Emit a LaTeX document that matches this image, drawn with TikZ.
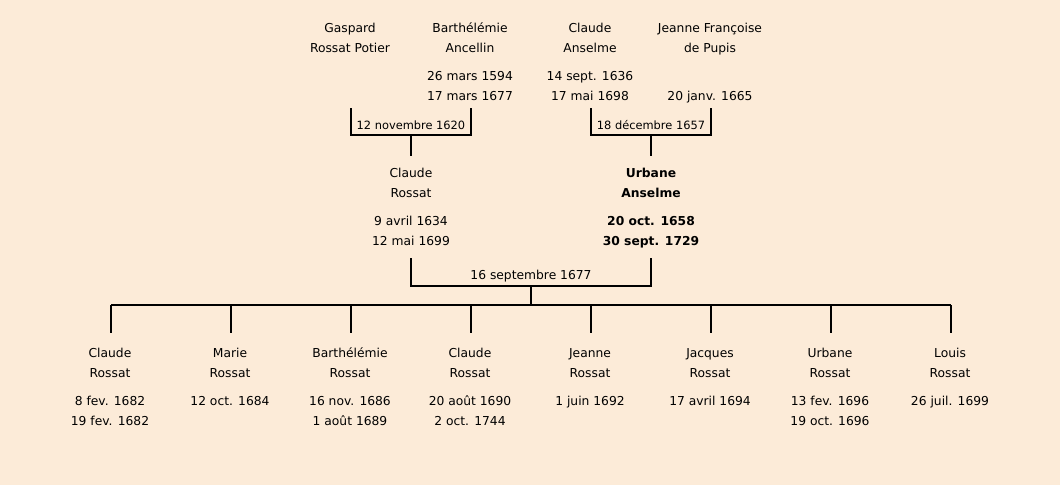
\documentclass[tikz,border=0pt]{standalone}
\usepackage{fontspec}
\setmainfont{DejaVu Sans}
\definecolor{bg}{HTML}{FCEBD8}
\begin{document}
\begin{tikzpicture}[x=1pt,y=-1pt,
  txt/.style={font=\fontsize{12.3}{20}\selectfont, align=center, inner sep=0pt, text=black,
    execute at begin node={\strut}, execute at end node={\strut}},
  two/.style={txt, yshift=-4pt},
  bold/.style={two, font=\fontsize{12.3}{20}\selectfont\bfseries},
  mlabel/.style={txt, font=\fontsize{11.4}{20}\selectfont},
  link/.style={line width=1.6pt, black}]
\fill[bg] (0,0) rectangle (1060,485);
% grandparents
\node[two] (gaspard) at (350,37) {Gaspard\\Rossat Potier};
\node[two] (barth) at (470,37) {Barthélémie\\Ancellin};
\node[two] (barthd) at (470,85) {26 mars 1594\\17 mars 1677};
\node[two] (claudeA) at (590,37) {Claude\\Anselme};
\node[two] (claudeAd) at (590,85) {14 sept. 1636\\17 mai 1698};
\node[two] (jeanneF) at (710,37) {Jeanne Françoise\\de Pupis};
\node[txt] (jeanneFd) at (710,96) {20 janv. 1665};
% parents
\node[two] (claudeR) at (411,182) {Claude\\Rossat};
\node[two] (claudeRd) at (411,230) {9 avril 1634\\12 mai 1699};
\node[bold] (urbaneA) at (651,182) {Urbane\\Anselme};
\node[bold] (urbaneAd) at (651,230) {20 oct. 1658\\30 sept. 1729};
% marriage 1
\coordinate (m1l) at (351,108);
\coordinate (m1r) at (471,108);
\coordinate (m1c) at (411,135);
\coordinate (m1d) at (411,156);
\draw[link] (m1l) |- (m1c) -| (m1r);
\draw[link] (m1c) -- (m1d);
\node[mlabel] (m1t) at (411,125) {12 novembre 1620};
% marriage 2
\coordinate (m2l) at (591,108);
\coordinate (m2r) at (711,108);
\coordinate (m2c) at (651,135);
\coordinate (m2d) at (651,156);
\draw[link] (m2l) |- (m2c) -| (m2r);
\draw[link] (m2c) -- (m2d);
\node[mlabel] (m2t) at (651,125) {18 décembre 1657};
% marriage 3
\coordinate (m3l) at (411,258);
\coordinate (m3r) at (651,258);
\coordinate (m3c) at (531,286);
\coordinate (m3d) at (531,305);
\draw[link] (m3l) |- (m3c) -| (m3r);
\draw[link] (m3c) -- (m3d);
\node[txt] (m3t) at (531,275) {16 septembre 1677};
% children bar
\coordinate (barL) at (111,305);
\coordinate (barR) at (951,305);
\draw[link] (barL) -- (barR);
\foreach \x/\nm/\dt [count=\i] in {
  110/{Claude\\Rossat}/{8 fev. 1682\\19 fev. 1682},
  230/{Marie\\Rossat}/{12 oct. 1684\\},
  350/{Barthélémie\\Rossat}/{16 nov. 1686\\1 août 1689},
  470/{Claude\\Rossat}/{20 août 1690\\2 oct. 1744},
  590/{Jeanne\\Rossat}/{1 juin 1692\\},
  710/{Jacques\\Rossat}/{17 avril 1694\\},
  830/{Urbane\\Rossat}/{13 fev. 1696\\19 oct. 1696},
  950/{Louis\\Rossat}/{26 juil. 1699\\}}{
  \coordinate (ct\i) at (\x+1,305);
  \coordinate (cb\i) at (\x+1,333);
  \draw[link] (ct\i) -- (cb\i);
  \node[two] (child\i) at (\x,362) {\nm};
  \node[two] (childd\i) at (\x,410) {\dt};
}
\end{tikzpicture}
\end{document}
